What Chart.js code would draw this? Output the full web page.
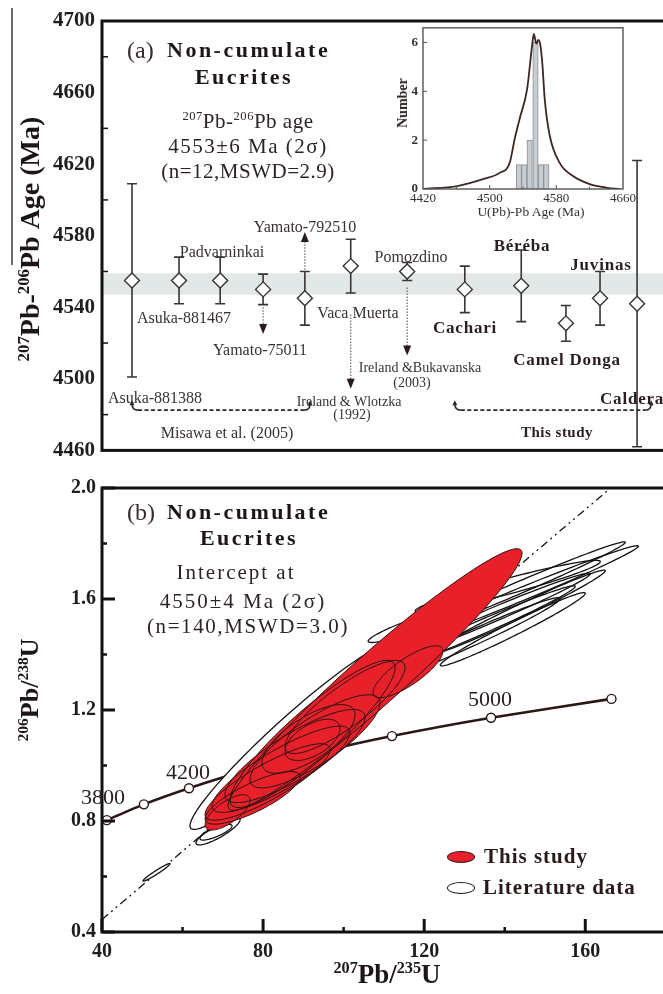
<!DOCTYPE html>
<html>
<head>
<meta charset="utf-8">
<title>Non-cumulate eucrites: Pb-Pb ages and U-Pb concordia</title>
<script src="https://cdn.jsdelivr.net/npm/chart.js@4.4.1/dist/chart.umd.min.js"></script>
<style>
  html, body { margin:0; padding:0; background:#fff; overflow:hidden; }
  #fig { position:relative; width:663px; height:994px; overflow:hidden; background:#fff;
         font-family:"Liberation Serif","Times New Roman",serif; color:#2e2424; }
  #fig canvas { position:absolute; }
  .t { position:absolute; white-space:nowrap; line-height:1; }
  .c { transform:translateX(-50%); }
  .b { font-weight:bold; }
  .v { transform:translate(-50%,-50%) rotate(-90deg); }
  .lab { font-size:16px; color:#3a3232; }
  .ref { font-size:14px; color:#3a3232; }
  .met { font-size:17px; font-weight:bold; letter-spacing:0.8px; color:#2a1e1e; }
  sup { font-size:0.6em; line-height:0; vertical-align:baseline; position:relative; top:-0.62em; }
</style>
</head>
<body>
<div id="fig">
  <canvas id="ageChart" width="720" height="470" style="left:0;top:0"></canvas>
  <canvas id="histChart" width="260" height="215" style="left:380px;top:15px"></canvas>
  <canvas id="concChart" width="720" height="524" style="left:0;top:470px"></canvas>

  <div style="position:absolute;left:11px;top:8px;width:1.5px;height:257px;background:#6a6a6a"></div>

  <!-- panel (a) -->
  <div class="t b v" style="left:30px;top:239px;font-size:28px;color:#1e1616"><sup>207</sup>Pb-<sup>206</sup>Pb&nbsp;Age&nbsp;(Ma)</div>
  <div class="t" style="left:127px;top:38px;font-size:24px;color:#3b2b2b">(a)</div>
  <div class="t b" style="left:167px;top:39px;font-size:22px;letter-spacing:2.5px;color:#1e1616">Non-cumulate</div>
  <div class="t b c" style="left:244px;top:66px;font-size:22px;letter-spacing:2.5px;color:#1e1616">Eucrites</div>
  <div class="t c" style="left:248px;top:111px;font-size:21px;letter-spacing:0.5px"><sup>207</sup>Pb-<sup>206</sup>Pb age</div>
  <div class="t c" style="left:248px;top:136px;font-size:21px;letter-spacing:1.5px">4553±6 Ma (2σ)</div>
  <div class="t c" style="left:248px;top:161px;font-size:21px;letter-spacing:0.5px">(n=12,MSWD=2.9)</div>

  <div class="t c lab" style="left:155px;top:390px">Asuka-881388</div>
  <div class="t c lab" style="left:222px;top:244px">Padvarninkai</div>
  <div class="t c lab" style="left:184px;top:310px">Asuka-881467</div>
  <div class="t c lab" style="left:260px;top:342px">Yamato-75011</div>
  <div class="t c lab" style="left:305px;top:219px">Yamato-792510</div>
  <div class="t c lab" style="left:358px;top:305px">Vaca Muerta</div>
  <div class="t c lab" style="left:411px;top:249px">Pomozdino</div>
  <div class="t c lab" style="left:227px;top:425px">Misawa et al. (2005)</div>
  <div class="t c ref" style="left:349px;top:395px">Ireland &amp; Wlotzka</div>
  <div class="t c ref" style="left:352px;top:408px">(1992)</div>
  <div class="t c ref" style="left:420px;top:361px">Ireland &amp;Bukavanska</div>
  <div class="t c ref" style="left:412px;top:376px">(2003)</div>
  <div class="t c met" style="left:465px;top:319px">Cachari</div>
  <div class="t c met" style="left:522px;top:237px">Béréba</div>
  <div class="t c met" style="left:567px;top:351px">Camel Donga</div>
  <div class="t c met" style="left:601px;top:256px">Juvinas</div>
  <div class="t met" style="left:600px;top:390px">Caldera</div>
  <div class="t c b" style="left:557px;top:425px;font-size:15px;letter-spacing:0.5px;color:#2a1e1e">This study</div>

  <!-- inset -->
  <div class="t b v" style="left:403px;top:103px;font-size:14px;color:#2a1e1e">Number</div>
  <div class="t c" style="left:531px;top:205px;font-size:13.5px;color:#333">U(Pb)-Pb Age (Ma)</div>

  <!-- panel (b) -->
  <div class="t b v" style="left:30px;top:690px;font-size:26px;color:#1e1616"><sup>206</sup>Pb/<sup>238</sup>U</div>
  <div class="t b c" style="left:387px;top:961px;font-size:27px;color:#1e1616"><sup>207</sup>Pb/<sup>235</sup>U</div>
  <div class="t" style="left:127px;top:500px;font-size:24px;color:#3b2b2b">(b)</div>
  <div class="t b" style="left:167px;top:501px;font-size:22px;letter-spacing:2.5px;color:#1e1616">Non-cumulate</div>
  <div class="t b c" style="left:249px;top:527px;font-size:22px;letter-spacing:2.5px;color:#1e1616">Eucrites</div>
  <div class="t c" style="left:236px;top:562px;font-size:21px;letter-spacing:2px">Intercept at</div>
  <div class="t c" style="left:243px;top:591px;font-size:21px;letter-spacing:2px">4550±4 Ma (2σ)</div>
  <div class="t c" style="left:248px;top:616px;font-size:21px;letter-spacing:1.6px">(n=140,MSWD=3.0)</div>
  <div class="t c" style="left:103px;top:786px;font-size:22px;color:#2a2020">3800</div>
  <div class="t c" style="left:188px;top:761px;font-size:22px;color:#2a2020">4200</div>
  <div class="t c" style="left:490px;top:688px;font-size:22px;color:#2a2020">5000</div>

  <div style="position:absolute;left:447px;top:851px;width:26px;height:10px;border:1px solid #2a1a1a;border-radius:50%;background:#e8202a"></div>
  <div style="position:absolute;left:447px;top:882px;width:26px;height:10px;border:1.4px solid #1a1a1a;border-radius:50%;background:#fff"></div>
  <div class="t b" style="left:484px;top:846px;font-size:21px;letter-spacing:1px;color:#2a1a1a">This study</div>
  <div class="t b" style="left:483px;top:877px;font-size:21px;letter-spacing:1px;color:#2a1a1a">Literature data</div>
</div>

<script>
// ---------- Panel (a): 207Pb-206Pb ages of non-cumulate eucrites ----------
const samples   = ['Asuka-881388', 'Asuka-881467', 'Padvarninkai', 'Yamato-75011', 'Yamato-792510',
                   'Vaca Muerta', 'Pomozdino', 'Cachari', 'Béréba', 'Camel Donga', 'Juvinas', 'Caldera'];
const samplePos = [0.51, 1.31, 2.01, 2.74, 3.45, 4.23, 5.19, 6.17, 7.13, 7.89, 8.47, 9.10];
const pbAge     = [4555, 4555, 4555, 4550, 4545, 4563, 4560, 4550, 4552, 4531, 4545, 4542];
const pbErr     = [54, 13, 13, 8.5, 15, 15, 5, 13, 20, 10, 15, 80];
const ageTicks      = [4460, 4500, 4540, 4580, 4620, 4660, 4700];
const ageMinorTicks = [4480, 4520, 4560, 4600, 4640, 4680];
const meanAge = 4553;
const meanErr = 6;

// ---------- Inset: age histogram and probability curve ----------
const binAge   = [4535, 4541.5, 4548, 4555, 4561.5, 4568];
const binCount = [1, 1, 2, 6, 1, 1];
const pdfAge   = [4420, 4461, 4492, 4512, 4524, 4530, 4536, 4545, 4551, 4553, 4556, 4558.5, 4561, 4563.5, 4566, 4572, 4584, 4600, 4620, 4641, 4656];
const pdfValue = [0, 0.12, 0.4, 0.66, 1.07, 2.05, 2.88, 4.1, 5.9, 6.35, 5.95, 6.1, 5.85, 5.0, 3.7, 2.2, 1.07, 0.53, 0.2, 0.05, 0];
const insetAgeTicks   = [4420, 4500, 4580, 4660];
const insetCountTicks = [0, 2, 4, 6];

// ---------- Panel (b): U-Pb concordia ----------
const concordiaAge = [3800, 4000, 4200, 4400, 4600, 4800, 5000, 5200];
const concordia207 = [41.2, 50.4, 61.6, 75.2, 91.8, 112.0, 136.6, 166.5];
const concordia206 = [0.803, 0.860, 0.918, 0.979, 1.041, 1.106, 1.172, 1.240];
const discordia207 = [40, 166.3];
const discordia206 = [0.445, 2.0];

// error ellipses: 207Pb/235U, 2s, 206Pb/238U, 2s, error correlation
const studyX   = [107.8, 115.99, 81.10, 84.45, 87.93, 92.89, 91.28, 92.27, 92.28, 77.38, 100.34, 71.17];
const studySX  = [36.5, 8.69, 15.52, 17.13, 17.39, 16.14, 11.55, 6.83, 20.49, 11.80, 14.90, 5.58];
const studyY   = [1.3096, 1.3378, 0.9405, 0.9864, 1.0341, 1.0871, 1.0959, 1.0923, 1.1136, 0.8834, 1.2107, 0.8310];
const studySY  = [0.4716, 0.0936, 0.1378, 0.1555, 0.1678, 0.1678, 0.1237, 0.0742, 0.2650, 0.0948, 0.1678, 0.0636];
const studyRho = [0.965, 0.8, 0.85, 0.85, 0.83, 0.82, 0.7, 0.55, 0.9, 0.8, 0.85, 0.7];

const litX   = [87.3, 68.82, 68.3, 53.54, 142.99, 143.23, 135.78, 132.67, 130.44, 118.76, 115.65, 140.75, 143.23, 142.0];
const litSX  = [25.45, 5.47, 3.98, 3.35, 30.19, 26.71, 25.47, 24.84, 23.35, 12.67, 9.57, 22.98, 21.74, 18.0];
const litY   = [1.105, 0.763, 0.7595, 0.615, 1.6105, 1.6387, 1.5348, 1.489, 1.450, 1.5119, 1.4502, 1.6458, 1.552, 1.491];
const litSY  = [0.3356, 0.0493, 0.0282, 0.0317, 0.1815, 0.1673, 0.1586, 0.1586, 0.155, 0.0687, 0.0564, 0.0934, 0.152, 0.132];
const litRho = [0.96, 0.85, 0.8, 0.97, 0.99, 0.99, 0.985, 0.985, 0.98, 0.93, 0.92, 0.95, 0.985, 0.98];

const ratio207Ticks = [40, 80, 120, 160];
const ratio207Minor = [60, 100, 140, 180];
const ratio206Ticks = [0.4, 0.8, 1.2, 1.6, 2.0];
const ratio206Minor = [0.6, 1.0, 1.4, 1.8];

// pointer arrows (sample index, start age, tip age) and reference brackets
const pointerArrows = [
  { i: 3, from: 4540, to: 4525 },
  { i: 4, from: 4561, to: 4582 },
  { i: 5, from: 4536, to: 4494.5 },
  { i: 6, from: 4551, to: 4513 }
];
const refBrackets = [
  { from: 0.51, to: 3.54, age: 4482.5 },
  { from: 6.0, to: 9.34, age: 4482.5 }
];

const serif = 'Liberation Serif';
const fixedTicks = list => function (s) { s.ticks = list.map(v => ({ value: v })); };
const plainNumber = v => String(v);

// closed frame plus inward tick marks
const frameTicks = {
  id: 'frameTicks',
  afterDraw(chart, args, o) {
    const { ctx, chartArea: a, scales } = chart;
    ctx.save();
    ctx.strokeStyle = o.color;
    ctx.lineWidth = o.width;
    ctx.strokeRect(a.left, a.top, a.right - a.left, a.bottom - a.top);
    const mark = (list, len, w, axis) => {
      if (!list) return;
      ctx.lineWidth = w;
      list.forEach(v => {
        ctx.beginPath();
        if (axis === 'y') {
          const py = scales.y.getPixelForValue(v);
          ctx.moveTo(a.left, py); ctx.lineTo(a.left + len, py);
        } else {
          const px = scales.x.getPixelForValue(v);
          ctx.moveTo(px, a.bottom); ctx.lineTo(px, a.bottom - len);
        }
        ctx.stroke();
      });
    };
    mark(o.yMajor, o.majorLen, o.majorWidth, 'y');
    mark(o.yMinor, o.minorLen, o.minorWidth, 'y');
    mark(o.xMajor, o.majorLen, o.majorWidth, 'x');
    mark(o.xMinor, o.minorLen, o.minorWidth, 'x');
    ctx.restore();
  }
};

// mean band, error bars, pointer arrows and brackets behind the diamonds
const ageDecor = {
  id: 'ageDecor',
  beforeDatasetsDraw(chart) {
    const { ctx, chartArea: a, scales: { x, y } } = chart;
    ctx.save();
    const bTop = y.getPixelForValue(meanAge + meanErr);
    const bBot = y.getPixelForValue(meanAge - meanErr);
    ctx.fillStyle = '#e2e8e8';
    ctx.fillRect(a.left, bTop, a.right - a.left, bBot - bTop);

    ctx.strokeStyle = '#3a3535';
    ctx.lineWidth = 1.6;
    samplePos.forEach((p, i) => {
      const px = x.getPixelForValue(p);
      const hi = y.getPixelForValue(pbAge[i] + pbErr[i]);
      const lo = y.getPixelForValue(pbAge[i] - pbErr[i]);
      ctx.beginPath();
      ctx.moveTo(px, hi); ctx.lineTo(px, lo);
      ctx.moveTo(px - 5, hi); ctx.lineTo(px + 5, hi);
      ctx.moveTo(px - 5, lo); ctx.lineTo(px + 5, lo);
      ctx.stroke();
    });

    pointerArrows.forEach(ar => {
      const px = x.getPixelForValue(samplePos[ar.i]);
      const y0 = y.getPixelForValue(ar.from);
      const y1 = y.getPixelForValue(ar.to);
      const dir = y1 > y0 ? 1 : -1;
      ctx.strokeStyle = '#666';
      ctx.lineWidth = 1.2;
      ctx.setLineDash([1.5, 1.5]);
      ctx.beginPath();
      ctx.moveTo(px, y0); ctx.lineTo(px, y1 - dir * 8);
      ctx.stroke();
      ctx.setLineDash([]);
      ctx.fillStyle = '#2a1a1a';
      ctx.beginPath();
      ctx.moveTo(px, y1);
      ctx.lineTo(px - 4, y1 - dir * 10);
      ctx.lineTo(px + 4, y1 - dir * 10);
      ctx.closePath();
      ctx.fill();
    });

    ctx.strokeStyle = '#2e2626';
    ctx.lineWidth = 1.6;
    refBrackets.forEach(br => {
      const x0 = x.getPixelForValue(br.from);
      const x1 = x.getPixelForValue(br.to);
      const py = y.getPixelForValue(br.age);
      ctx.setLineDash([4, 2.5]);
      ctx.beginPath();
      ctx.moveTo(x0 + 6, py); ctx.lineTo(x1 - 6, py);
      ctx.stroke();
      ctx.setLineDash([]);
      ctx.beginPath();
      ctx.moveTo(x0 + 6, py); ctx.quadraticCurveTo(x0, py, x0, py - 7);
      ctx.moveTo(x1 - 6, py); ctx.quadraticCurveTo(x1, py, x1, py - 7);
      ctx.stroke();
      ctx.fillStyle = '#2e2626';
      [x0, x1].forEach(ex => {
        ctx.beginPath();
        ctx.moveTo(ex, py - 10); ctx.lineTo(ex - 2.5, py - 5); ctx.lineTo(ex + 2.5, py - 5);
        ctx.closePath(); ctx.fill();
      });
    });
    ctx.restore();
  }
};

// 2-sigma error ellipses traced through the chart scales
const ellipseLayer = {
  id: 'ellipseLayer',
  afterDatasetsDraw(chart) {
    const { ctx, chartArea: a, scales: { x, y } } = chart;
    const trace = (cx, sx, cy, sy, r) => {
      const k = Math.sqrt(1 - r * r);
      ctx.beginPath();
      for (let j = 0; j <= 120; j++) {
        const t = j / 120 * 2 * Math.PI, c = Math.cos(t), s = Math.sin(t);
        const px = x.getPixelForValue(cx + sx * c);
        const py = y.getPixelForValue(cy + sy * (r * c + k * s));
        if (j === 0) ctx.moveTo(px, py); else ctx.lineTo(px, py);
      }
      ctx.closePath();
    };
    ctx.save();
    ctx.beginPath();
    ctx.rect(a.left, a.top, a.right - a.left, a.bottom - a.top);
    ctx.clip();
    ctx.lineJoin = 'round';

    ctx.fillStyle = '#ffffff';
    litX.forEach((v, i) => { trace(v, litSX[i], litY[i], litSY[i], litRho[i]); ctx.fill(); });
    ctx.strokeStyle = '#111';
    ctx.lineWidth = 1.3;
    litX.forEach((v, i) => { trace(v, litSX[i], litY[i], litSY[i], litRho[i]); ctx.stroke(); });

    ctx.fillStyle = '#e8202a';
    studyX.forEach((v, i) => { trace(v, studySX[i], studyY[i], studySY[i], studyRho[i]); ctx.fill(); });
    ctx.strokeStyle = '#2a1212';
    ctx.lineWidth = 1;
    studyX.forEach((v, i) => { trace(v, studySX[i], studyY[i], studySY[i], studyRho[i]); ctx.stroke(); });
    ctx.restore();
  }
};

const noGrid = { display: false, drawTicks: false };
const noBorder = { display: false };

// ---- panel (a) ----
new Chart(document.getElementById('ageChart'), {
  type: 'scatter',
  data: {
    labels: samples,
    datasets: [{
      label: '207Pb-206Pb age',
      data: samplePos.map((p, i) => ({ x: p, y: pbAge[i] })),
      pointStyle: 'rectRot',
      pointRadius: 7.5,
      pointBackgroundColor: '#ffffff',
      pointBorderColor: '#333',
      pointBorderWidth: 1.4
    }]
  },
  options: {
    responsive: false, animation: false, devicePixelRatio: 1,
    layout: { padding: { top: 21, right: 30, bottom: 12, left: 0 } },
    plugins: {
      legend: { display: false }, tooltip: { enabled: false },
      frameTicks: { color: '#111', width: 3, yMinor: ageMinorTicks, minorLen: 6, minorWidth: 1.5 }
    },
    scales: {
      x: { type: 'linear', min: 0, max: 10, display: false },
      y: {
        min: 4460, max: 4700,
        afterBuildTicks: fixedTicks(ageTicks),
        ticks: { font: { family: serif, size: 21, weight: 'bold' }, color: '#1e1e1e', padding: 7, callback: plainNumber },
        grid: noGrid, border: noBorder,
        afterFit(s) { s.width = 102; }
      }
    }
  },
  plugins: [ageDecor, frameTicks]
});

// ---- inset histogram ----
new Chart(document.getElementById('histChart'), {
  type: 'bar',
  data: {
    datasets: [
      {
        type: 'line', label: 'probability',
        data: pdfAge.map((t, i) => ({ x: t, y: pdfValue[i] })),
        borderColor: '#3d2724', borderWidth: 1.8, pointRadius: 0,
        cubicInterpolationMode: 'monotone', order: 0
      },
      {
        type: 'bar', label: 'count',
        data: binAge.map((t, i) => ({ x: t, y: binCount[i] })),
        backgroundColor: '#c8cdd2', borderColor: '#8a8f94', borderWidth: 1,
        barPercentage: 1, categoryPercentage: 1, order: 1
      }
    ]
  },
  options: {
    responsive: false, animation: false, devicePixelRatio: 1,
    layout: { padding: { top: 12, right: 17, bottom: 0, left: 0 } },
    plugins: {
      legend: { display: false }, tooltip: { enabled: false },
      frameTicks: { color: '#555', width: 1.4, yMajor: [2, 4, 6], xMajor: [4500, 4580], xMinor: [4460, 4540, 4620],
                    majorLen: 4, majorWidth: 1, minorLen: 2.5, minorWidth: 1 }
    },
    scales: {
      x: {
        type: 'linear', min: 4420, max: 4660, offset: false,
        afterBuildTicks: fixedTicks(insetAgeTicks),
        ticks: { font: { family: serif, size: 13 }, color: '#333', padding: 2, maxRotation: 0, autoSkip: false, callback: plainNumber },
        grid: noGrid, border: noBorder,
        afterFit(s) { s.height = 41; }
      },
      y: {
        min: 0, max: 6.6,
        afterBuildTicks: fixedTicks(insetCountTicks),
        ticks: { font: { family: serif, size: 13, weight: 'bold' }, color: '#333', padding: 5, callback: plainNumber },
        grid: noGrid, border: noBorder,
        afterFit(s) { s.width = 43; }
      }
    }
  },
  plugins: [frameTicks]
});

// ---- panel (b) ----
new Chart(document.getElementById('concChart'), {
  type: 'scatter',
  data: {
    datasets: [
      {
        label: 'Concordia',
        data: concordiaAge.map((t, i) => ({ x: concordia207[i], y: concordia206[i] })),
        showLine: true, borderColor: '#2b1715', borderWidth: 2.6, tension: 0.25,
        pointRadius: 4.5, pointBackgroundColor: '#ffffff', pointBorderColor: '#2b1715', pointBorderWidth: 1.4
      },
      {
        label: 'Discordia',
        data: discordia207.map((v, i) => ({ x: v, y: discordia206[i] })),
        showLine: true, borderColor: '#151515', borderWidth: 1.3,
        borderDash: [8, 4, 2, 4, 2, 4], pointRadius: 0
      }
    ]
  },
  options: {
    responsive: false, animation: false, devicePixelRatio: 1,
    layout: { padding: { top: 9, right: 30, bottom: 0, left: 0 } },
    plugins: {
      legend: { display: false }, tooltip: { enabled: false },
      frameTicks: { color: '#111', width: 3,
                    yMajor: ratio206Ticks, yMinor: ratio206Minor, xMajor: ratio207Ticks, xMinor: ratio207Minor,
                    majorLen: 13, majorWidth: 3, minorLen: 5, minorWidth: 2.5 }
    },
    scales: {
      x: {
        type: 'linear', min: 40, max: 186,
        afterBuildTicks: fixedTicks(ratio207Ticks),
        ticks: { font: { family: serif, size: 20, weight: 'bold' }, color: '#1e1e1e', padding: 8, maxRotation: 0, autoSkip: false, callback: plainNumber },
        grid: noGrid, border: noBorder,
        afterFit(s) { s.height = 62; }
      },
      y: {
        min: 0.4, max: 2.0,
        afterBuildTicks: fixedTicks(ratio206Ticks),
        ticks: { font: { family: serif, size: 20, weight: 'bold' }, color: '#1e1e1e', padding: 6,
                 callback: v => Number(v).toFixed(1) },
        grid: noGrid, border: noBorder,
        afterFit(s) { s.width = 102; }
      }
    }
  },
  plugins: [ellipseLayer, frameTicks]
});
</script>
</body>
</html>
